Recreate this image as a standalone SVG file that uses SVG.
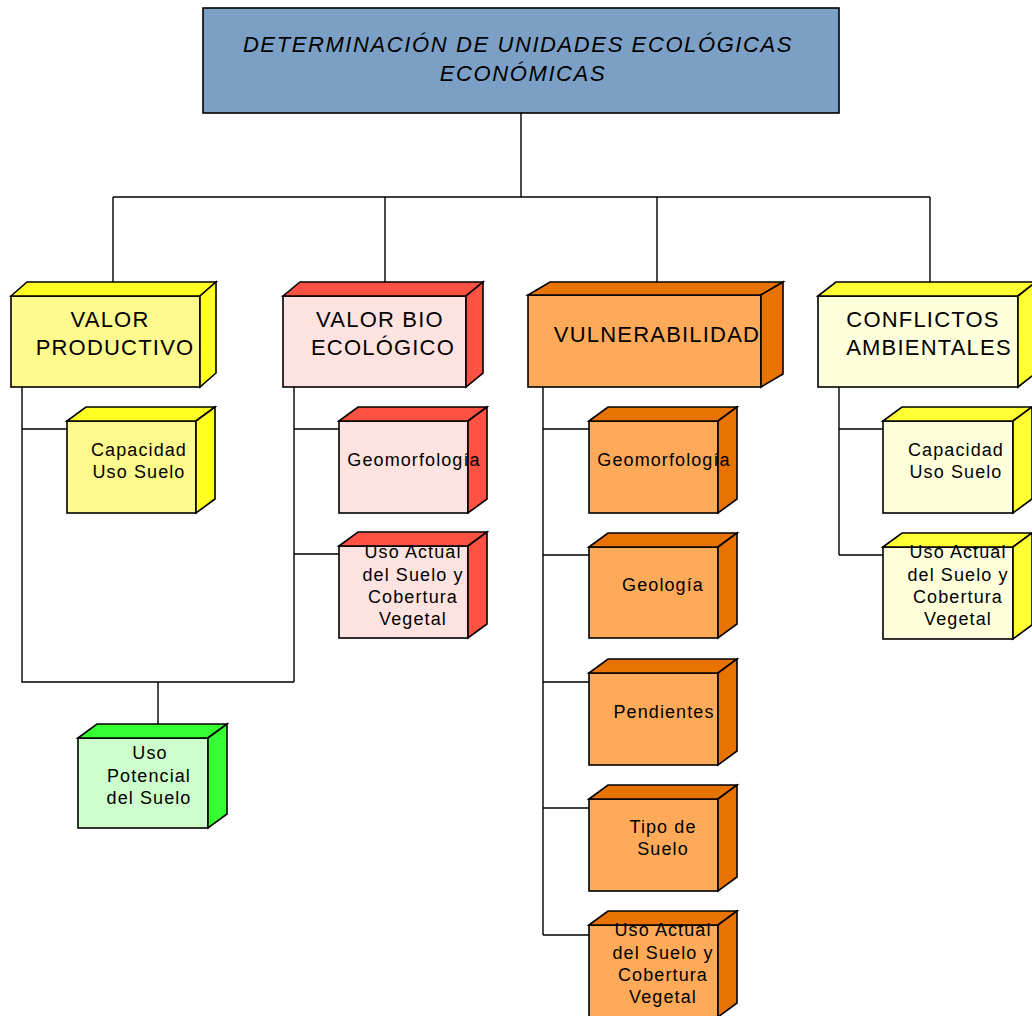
<svg xmlns="http://www.w3.org/2000/svg" width="1032" height="1016" viewBox="0 0 1032 1016">
<style>
.ln{stroke:#000;stroke-width:1.4;fill:none}
.bx{stroke:#000;stroke-width:1.6;stroke-linejoin:miter}
.t1{font-family:"Liberation Sans",Arial,sans-serif;font-size:22px;letter-spacing:1.2px;text-anchor:middle;fill:#000}
.t0{font-family:"Liberation Sans",Arial,sans-serif;font-size:22px;font-style:italic;letter-spacing:1.6px;text-anchor:middle;fill:#000}
.t2{font-family:"Liberation Sans",Arial,sans-serif;font-size:18px;letter-spacing:1.1px;text-anchor:middle;fill:#000}
.yF{fill:#FFFA8E}.yS{fill:#FFFF22}
.rF{fill:#FFE3E0}.rS{fill:#FF5242}
.oF{fill:#FFAA58}.oS{fill:#E87300}
.cF{fill:#FFFFDC}.cS{fill:#FFFF33}
.gF{fill:#CCFFCC}.gS{fill:#33FF33}
</style>
<rect width="1032" height="1016" fill="#fff"/>
<g id="connectors">
<path class="ln" d="M521 113V197M113 197H930M113 197V284M385 197V284M657 197V284M930 197V284"/>
<path class="ln" d="M22 387V682H294M294 387V682M22 429H67M294 429H339M294 554H339M158 682V732"/>
<path class="ln" d="M543 387V935M543 429H589M543 555H589M543 682H589M543 808H589M543 935H589"/>
<path class="ln" d="M839 387V555M839 429H883M839 555H883"/>
</g>
<g id="title">
<rect x="203" y="8" width="636" height="105" fill="#7CA0C5" stroke="#000" stroke-width="1.6"/>
<text class="t0" x="518" y="52">DETERMINACIÓN DE UNIDADES ECOLÓGICAS</text>
<text class="t0" x="523" y="81">ECONÓMICAS</text>
</g>
<g id="valor-productivo">
<rect class="bx yF" x="11" y="296" width="189" height="91"/>
<polygon class="bx yS" points="11,296 27,282 216,282 200,296"/>
<polygon class="bx yS" points="200,296 216,282 216,373 200,387"/>
<text class="t1" x="110" y="327">VALOR</text>
<text class="t1" x="115" y="355">PRODUCTIVO</text>
</g>
<g id="valor-bio">
<rect class="bx rF" x="283" y="296" width="183" height="91"/>
<polygon class="bx rS" points="283,296 300,282 483,282 466,296"/>
<polygon class="bx rS" points="466,296 483,282 483,373 466,387"/>
<text class="t1" x="380" y="327">VALOR BIO</text>
<text class="t1" x="383" y="355">ECOLÓGICO</text>
</g>
<g id="vulnerabilidad">
<rect class="bx oF" x="528" y="295" width="233" height="92"/>
<polygon class="bx oS" points="528,295 550,282 783,282 761,295"/>
<polygon class="bx oS" points="761,295 783,282 783,374 761,387"/>
<text class="t1" x="657" y="342">VULNERABILIDAD</text>
</g>
<g id="conflictos">
<rect class="bx cF" x="818" y="296" width="200" height="91"/>
<polygon class="bx cS" points="818,296 836,282 1036,282 1018,296"/>
<polygon class="bx cS" points="1018,296 1036,282 1036,373 1018,387"/>
<text class="t1" x="923" y="327">CONFLICTOS</text>
<text class="t1" x="929" y="355">AMBIENTALES</text>
</g>
<g id="vp-capacidad">
<rect class="bx yF" x="67" y="421" width="129" height="92"/>
<polygon class="bx yS" points="67,421 86,407 215,407 196,421"/>
<polygon class="bx yS" points="196,421 215,407 215,499 196,513"/>
<text class="t2" x="139" y="456">Capacidad</text>
<text class="t2" x="139" y="478">Uso Suelo</text>
</g>
<g id="uso-potencial">
<rect class="bx gF" x="78" y="738" width="130" height="90"/>
<polygon class="bx gS" points="78,738 97,724 227,724 208,738"/>
<polygon class="bx gS" points="208,738 227,724 227,814 208,828"/>
<text class="t2" x="150" y="759">Uso</text>
<text class="t2" x="149" y="782">Potencial</text>
<text class="t2" x="149" y="804">del Suelo</text>
</g>
<g id="vb-geomorfologia">
<rect class="bx rF" x="339" y="421" width="129" height="92"/>
<polygon class="bx rS" points="339,421 358,407 487,407 468,421"/>
<polygon class="bx rS" points="468,421 487,407 487,499 468,513"/>
<text class="t2" x="414" y="466">Geomorfología</text>
</g>
<g id="vb-uso-actual">
<rect class="bx rF" x="339" y="546" width="129" height="92"/>
<polygon class="bx rS" points="339,546 358,532 487,532 468,546"/>
<polygon class="bx rS" points="468,546 487,532 487,624 468,638"/>
<text class="t2" x="413" y="558">Uso Actual</text>
<text class="t2" x="413" y="581">del Suelo y</text>
<text class="t2" x="413" y="603">Cobertura</text>
<text class="t2" x="413" y="625">Vegetal</text>
</g>
<g id="vu-geomorfologia">
<rect class="bx oF" x="589" y="421" width="129" height="92"/>
<polygon class="bx oS" points="589,421 608,407 737,407 718,421"/>
<polygon class="bx oS" points="718,421 737,407 737,499 718,513"/>
<text class="t2" x="664" y="466">Geomorfología</text>
</g>
<g id="vu-geologia">
<rect class="bx oF" x="589" y="547" width="129" height="91"/>
<polygon class="bx oS" points="589,547 608,533 737,533 718,547"/>
<polygon class="bx oS" points="718,547 737,533 737,624 718,638"/>
<text class="t2" x="663" y="591">Geología</text>
</g>
<g id="vu-pendientes">
<rect class="bx oF" x="589" y="673" width="129" height="92"/>
<polygon class="bx oS" points="589,673 608,659 737,659 718,673"/>
<polygon class="bx oS" points="718,673 737,659 737,751 718,765"/>
<text class="t2" x="664" y="718">Pendientes</text>
</g>
<g id="vu-tipo-suelo">
<rect class="bx oF" x="589" y="799" width="129" height="92"/>
<polygon class="bx oS" points="589,799 608,785 737,785 718,799"/>
<polygon class="bx oS" points="718,799 737,785 737,877 718,891"/>
<text class="t2" x="663" y="833">Tipo de</text>
<text class="t2" x="663" y="855">Suelo</text>
</g>
<g id="vu-uso-actual">
<rect class="bx oF" x="589" y="925" width="129" height="92"/>
<polygon class="bx oS" points="589,925 608,911 737,911 718,925"/>
<polygon class="bx oS" points="718,925 737,911 737,1003 718,1017"/>
<text class="t2" x="663" y="936">Uso Actual</text>
<text class="t2" x="663" y="959">del Suelo y</text>
<text class="t2" x="663" y="981">Cobertura</text>
<text class="t2" x="663" y="1003">Vegetal</text>
</g>
<g id="ca-capacidad">
<rect class="bx cF" x="883" y="421" width="130" height="92"/>
<polygon class="bx cS" points="883,421 902,407 1032,407 1013,421"/>
<polygon class="bx cS" points="1013,421 1032,407 1032,499 1013,513"/>
<text class="t2" x="956" y="456">Capacidad</text>
<text class="t2" x="956" y="478">Uso Suelo</text>
</g>
<g id="ca-uso-actual">
<rect class="bx cF" x="883" y="547" width="130" height="92"/>
<polygon class="bx cS" points="883,547 902,533 1032,533 1013,547"/>
<polygon class="bx cS" points="1013,547 1032,533 1032,625 1013,639"/>
<text class="t2" x="958" y="558">Uso Actual</text>
<text class="t2" x="958" y="581">del Suelo y</text>
<text class="t2" x="958" y="603">Cobertura</text>
<text class="t2" x="958" y="625">Vegetal</text>
</g>
</svg>
